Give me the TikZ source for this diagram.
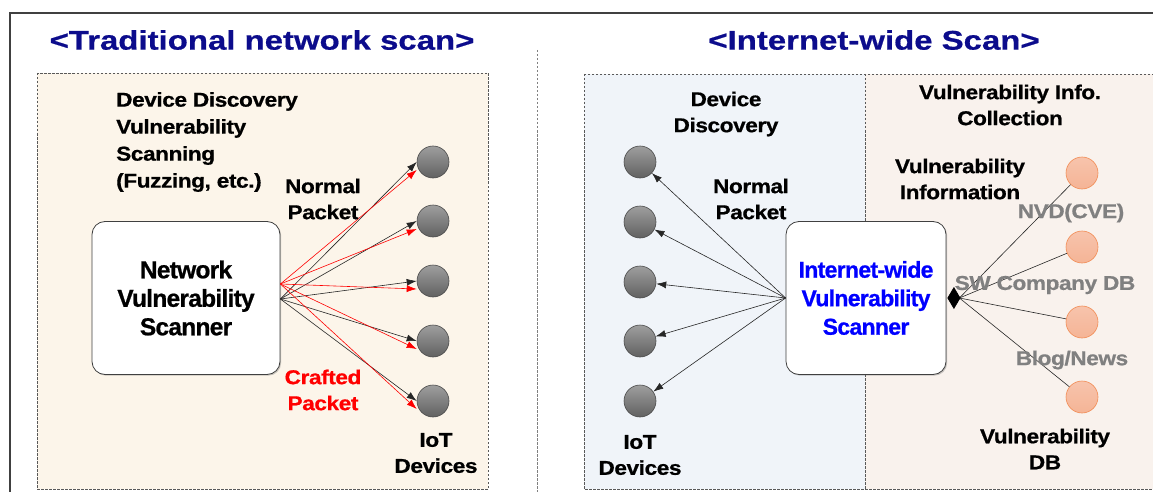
\documentclass[tikz,border=0pt]{standalone}
\usepackage{fontspec}
\setmainfont{Liberation Sans}
\newfontfamily\widefont{Liberation Sans}[FakeStretch=1.13, FakeBold=0.7, LetterSpace=-2]
\newfontfamily\titlefont{Liberation Sans}[FakeStretch=1.22, FakeBold=0.6]
\newfontfamily\boxfont{Liberation Sans}[FakeBold=0.8, LetterSpace=-3]
\usetikzlibrary{arrows.meta,shadows,calc}
\definecolor{navy}{RGB}{12,12,140}
\definecolor{leftbg}{RGB}{252,245,234}
\definecolor{bluebg}{RGB}{240,244,249}
\definecolor{peachbg}{RGB}{249,242,237}
\definecolor{scanblue}{RGB}{0,0,255}
\definecolor{lblgray}{RGB}{128,128,128}
\definecolor{orgfill}{RGB}{245,180,150}
\definecolor{orgtop}{RGB}{247,196,172}
\definecolor{orgdraw}{RGB}{242,140,85}
\tikzset{
  lbl/.style={font={\widefont\bfseries\fontsize{20}{26}\selectfont}, align=center, inner sep=0pt},
  glbl/.style={font={\widefont\bfseries\fontsize{20}{26}\selectfont}, text=lblgray, inner sep=0pt},
  ttl/.style={font={\titlefont\bfseries\fontsize{27}{30}\selectfont}, text=navy, inner sep=0pt},
  dev/.style={circle, minimum size=32pt, inner sep=0pt, draw=black!70, line width=0.6pt, top color=black!38, bottom color=black!62},
  srcnode/.style={circle, minimum size=32pt, inner sep=0pt, draw=orgdraw, line width=0.6pt, top color=orgtop, bottom color=orgfill},
  panel/.style={draw=black!65, dash pattern=on 2.5pt off 1.5pt, line width=0.6pt},
  scanbox/.style={draw=black!75, rounded corners=13pt, fill=white, line width=0.8pt, align=center,
    drop shadow={shadow xshift=1.2pt, shadow yshift=-1.2pt, opacity=0.35, fill=black!60}},
  arr/.style={-{Latex[length=10pt,width=7pt]}, line width=0.6pt},
  infoline/.style={line width=0.6pt, black!85},
  dia/.style={-{Diamond[length=13pt,width=22pt]}, line width=0.6pt, black},
}
\begin{document}
\begin{tikzpicture}[x=1pt,y=-1pt]
\useasboundingbox (0,0) rectangle (1153,492);
\clip (0,0) rectangle (1153,492);
\fill[white] (0,0) rectangle (1153,492);
% outer frame
\draw[line width=1.4pt, black!75] (10,520) -- (10,13) -- (1180,13);
% panels
\fill[leftbg] (37,73) rectangle (488,489);
\draw[panel] (37,73) rectangle (488,489);
\fill[bluebg] (584,74) rectangle (865,489);
\fill[peachbg] (865,74) rectangle (1180,489);
\draw[panel] (584,74) rectangle (1180,489);
\draw[panel] (865,74) -- (865,489);
\draw[panel, draw=black!50] (537,50) -- (537,500);
% titles
\node[ttl] (t1) at (262,40) {<Traditional network scan>};
\node[ttl] (t2) at (874,40) {<Internet-wide Scan>};
% ---------------- left panel
\node[lbl, align=left, anchor=west, font={\widefont\bfseries\fontsize{20}{27}\selectfont}] (ltxt) at (116,142) {Device Discovery\\Vulnerability\\Scanning\\(Fuzzing, etc.)};
\node[scanbox, minimum width=188pt, minimum height=153pt, font={\boxfont\bfseries\fontsize{24.5}{28.5}\selectfont}] (ns) at (186,298) {Network\\Vulnerability\\Scanner};
\foreach \i/\yy in {1/162,2/221,3/281,4/341,5/401}
  \node[dev] (L\i) at (433,\yy) {};
\coordinate (sb) at ($(ns.east)+(0,1)$);
\coordinate (sr) at ($(ns.east)+(0,-14)$);
\foreach \i in {1,...,5}{
  \draw[arr, black!85] (sb) -- (L\i.west);
  \draw[arr, red] (sr) -- ([yshift=-8pt]L\i.west);
}
\node[lbl] (np1) at (323,199) {Normal\\Packet};
\node[lbl, text=red] (cp1) at (323,390) {Crafted\\Packet};
\node[lbl] (iot1) at (436,453) {IoT\\Devices};
% ---------------- right panel
\node[lbl] (dd) at (726,114) {Device\\Discovery};
\foreach \i/\yy in {1/162,2/222,3/282,4/341,5/401}
  \node[dev] (R\i) at (640,\yy) {};
\node[scanbox, minimum width=160pt, minimum height=153pt, text=scanblue, font={\boxfont\bfseries\fontsize{23}{28.5}\selectfont}] (is) at (866,298) {Internet-wide\\Vulnerability\\Scanner};
\foreach \i in {1,...,5}
  \draw[arr, black!85] (is.west) -- (R\i);
\node[lbl] (np2) at (751,199) {Normal\\Packet};
\node[lbl] (iot2) at (640,455) {IoT\\Devices};
% vulnerability info
\node[lbl] (vic) at (1010,105) {Vulnerability Info.\\Collection};
\node[lbl] (vinf) at (960,179) {Vulnerability\\Information};
\foreach \i/\yy in {1/173,2/247,3/322,4/397}
  \node[srcnode] (O\i) at (1082,\yy) {};
\coordinate (dj) at ($(is.east)+(1,0)$);
\coordinate (dm) at ($(is.east)+(13,0)$);
\foreach \i in {1,...,4}
  \draw[infoline] (O\i) -- (dm);
\draw[dia] (dm) -- (dj);
\node[glbl] (nvd) at (1071,213) {NVD(CVE)};
\node[glbl] (swc) at (1045,285) {SW Company DB};
\node[glbl] (blog) at (1072,360) {Blog/News};
\node[lbl] (vdb) at (1045,449) {Vulnerability\\DB};
\end{tikzpicture}
\end{document}
